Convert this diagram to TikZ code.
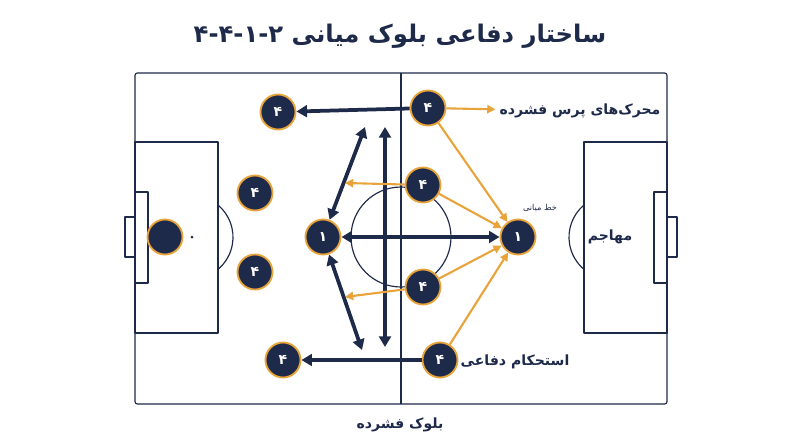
\documentclass[tikz,border=0pt]{standalone}
\usepackage{fontspec}
\newfontfamily\fa[Script=Arabic]{DejaVu Sans}
\usetikzlibrary{arrows.meta}
\TeXXeTstate=1
\newcommand{\rtl}[1]{{\fa\beginR #1\endR}}
\definecolor{navy}{HTML}{1E2A4A}
\definecolor{gold}{HTML}{E8A33A}

\begin{document}
\begin{tikzpicture}[x=0.03cm,y=-0.03cm
  ,line join=round
  ,player/.style={circle,draw=gold,fill=navy,line width=1.6pt,minimum size=1.05cm,inner sep=0pt,text=white,font=\fa\bfseries\large},
  field/.style={draw=navy,line width=1pt},
  push/.style={-{Triangle[length=9pt,width=10pt]},draw=navy,line width=3.2pt},
  both/.style={{Triangle[length=9pt,width=10pt]}-{Triangle[length=9pt,width=10pt]},draw=navy,line width=3.2pt},
  cover/.style={-{Triangle[length=7pt,width=7pt]},draw=gold,line width=1.8pt},
  lbl/.style={text=navy,font=\fa}]
  \useasboundingbox (0,0) rectangle (800,447);

  % pitch
  \draw[field,rounded corners=2pt] (135,73) rectangle (667,404);
  \draw[field] (401,73) -- (401,404);
  \draw[field] (401,237) circle (50);
  \draw[field] (135,142) rectangle (218,333);
  \draw[field] (584,142) rectangle (667,333);
  \draw[field] (135,192) rectangle (148,283);
  \draw[field] (654,192) rectangle (667,283);
  \draw[field] (125,217) rectangle (135,257);
  \draw[field] (667,217) rectangle (677,257);
  \draw[field] (218,205) arc (-50:50:42);
  \draw[field] (584,205) arc (230:130:42);
  \fill[navy] (192,237) circle (1.5);

  % players
  \node[player] (lt)  at (278,112) {۴};
  \node[player] (rt)  at (428,108) {۴};
  \node[player] (lm1) at (255,193) {۴};
  \node[player] (rm1) at (423,185) {۴};
  \node[player] (lm2) at (255,272) {۴};
  \node[player] (rm2) at (423,287) {۴};
  \node[player] (gk)  at (165,237) {};
  \node[player] (lc)  at (323,237) {۱};
  \node[player] (rc)  at (518,237) {۱};
  \node[player] (lb)  at (283,360) {۴};
  \node[player] (rb)  at (440,360) {۴};

  \coordinate (up1) at (365,127);
  \coordinate (up2) at (385,127);
  \coordinate (dn1) at (362,350);
  \coordinate (dn2) at (385,347);

  % compact block
  \draw[push] (rt) -- (lt);
  \draw[push] (rb) -- (lb);
  \draw[both] (lc) -- (up1);
  \draw[both] (up2) -- (dn2);
  \draw[both] (lc) -- (dn1);
  \draw[both] (lc) -- (rc);

  % pressing triggers
  \node[lbl,font=\fa\bfseries\large] (trig) at (580,111) {\rtl{محرک‌های پرس فشرده}};
  \draw[cover] (rt) -- (trig);
  \draw[cover] (rt) -- (rc);
  \draw[cover] (rm1) -- (345,183);
  \draw[cover] (rm1) -- (rc);
  \draw[cover] (rm2) -- (345,297);
  \draw[cover] (rm2) -- (rc);
  \draw[cover] (rb) -- (rc);

  % labels
  \node[font=\fa\bfseries\huge,text=navy] (title) at (400,36) {۴-۴-۱-۲ \rtl{ساختار دفاعی بلوک میانی}};
  \node[lbl,font=\fa\scriptsize] (mid) at (540,208) {\rtl{خط میانی}};
  \node[lbl,font=\fa\bfseries\large] (fw) at (610,237) {\rtl{مهاجم}};
  \node[lbl,font=\fa\bfseries\large] (def) at (515,362) {\rtl{استحکام دفاعی}};
  \node[lbl,font=\fa\bfseries\large] (blk) at (400,425) {\rtl{بلوک فشرده}};
\end{tikzpicture}
\end{document}
